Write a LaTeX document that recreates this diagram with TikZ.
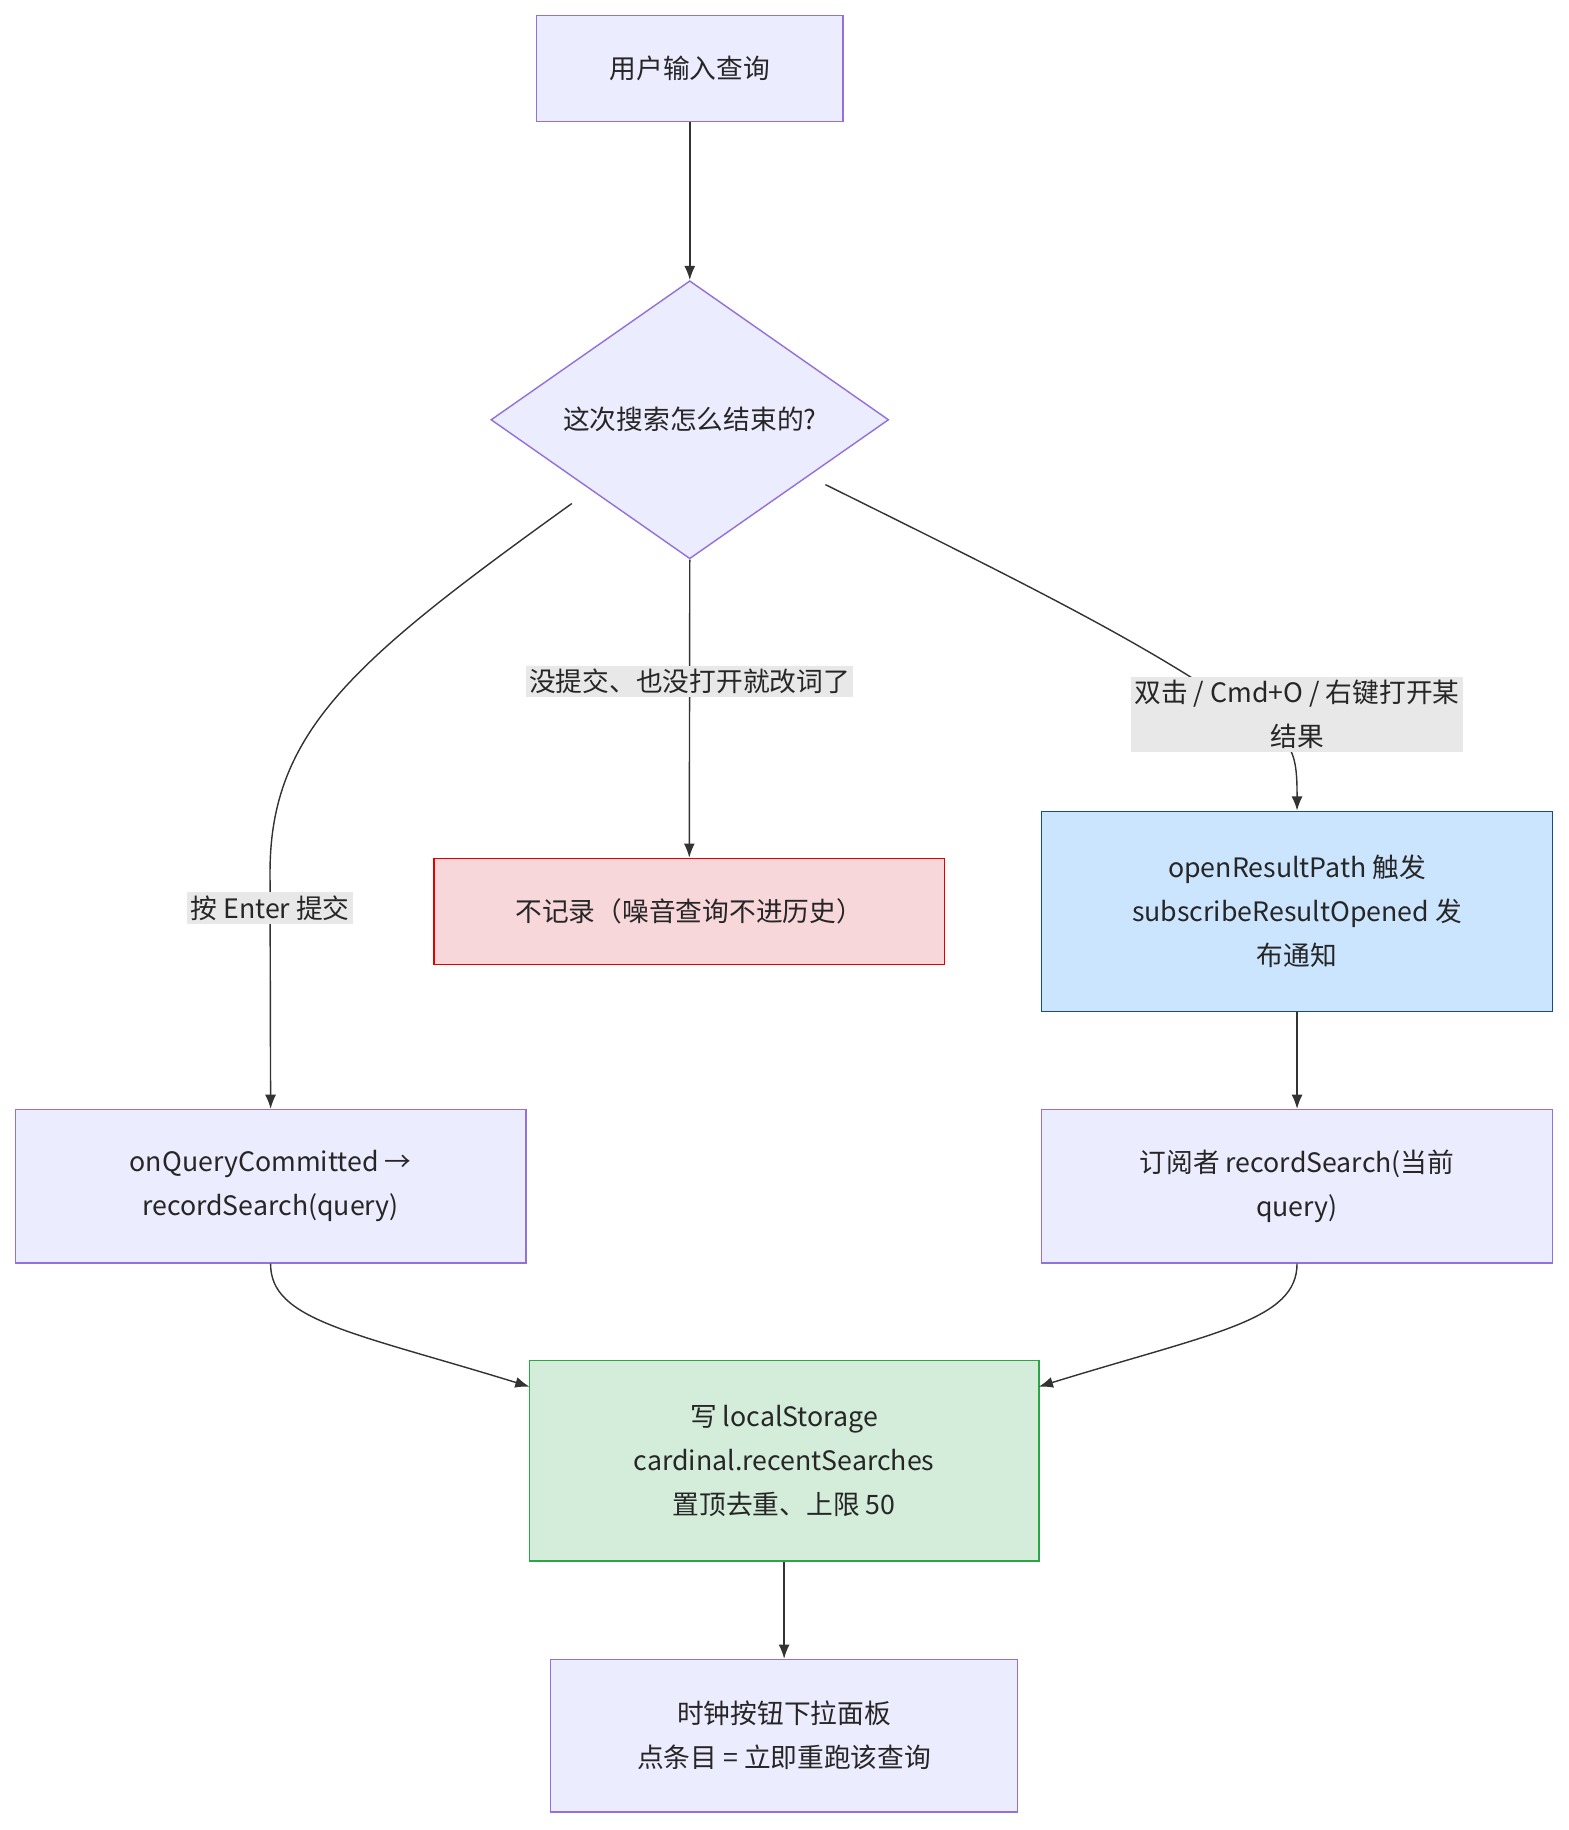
\documentclass[tikz,border=0pt]{standalone}
\usepackage{fontspec}
\setmainfont{Noto Sans CJK SC}
\usetikzlibrary{shapes.geometric,arrows.meta}
\definecolor{pfill}{HTML}{ECECFF}
\definecolor{pline}{HTML}{9370DB}
\definecolor{lbl}{HTML}{E8E8E8}
\begin{document}
\begin{tikzpicture}[x=0.75pt,y=-0.75pt,
  box/.style={draw=pline,fill=pfill,line width=0.9pt,minimum width=#1*0.75pt,align=center,font=\fontsize{17}{28}\selectfont,text=black!85},
  ar/.style={-{Latex[length=9pt,width=7pt]},line width=0.9pt,draw=black!80},
  lab/.style={fill=lbl,inner sep=2pt,align=center,font=\fontsize{17}{28}\selectfont,text=black!85}]
\useasboundingbox (0,0) rectangle (1330,1552);
\node[box=260,minimum height=67.5pt] (A) at (585,58) {用户输入查询};
\node[box=1,diamond,aspect=1,minimum width=253pt,inner sep=0pt] (D) at (585,356) {这次搜索怎么结束的?};
\node[box=433,minimum height=67.5pt,draw=red!90!black,fill={rgb,255:red,248;green,215;blue,218}] (N) at (584.5,773) {不记录（噪音查询不进历史）};
\node[box=433,minimum height=127.5pt,draw={rgb,255:red,26;green,74;blue,138},fill={rgb,255:red,204;green,229;blue,255}] (O) at (1100,773) {openResultPath 触发\\subscribeResultOpened 发\\布通知};
\node[box=433,minimum height=97.5pt] (C) at (229.5,1006) {onQueryCommitted →\\recordSearch(query)};
\node[box=433,minimum height=97.5pt] (S) at (1100,1006) {订阅者 recordSearch(当前\\query)};
\node[box=432,minimum height=127.5pt,draw={rgb,255:red,40;green,167;blue,69},fill={rgb,255:red,212;green,237;blue,218}] (W) at (665,1239) {写 localStorage\\cardinal.recentSearches\\置顶去重、上限 50};
\node[box=396,minimum height=97pt] (T) at (665,1472) {时钟按钮下拉面板\\点条目 = 立即重跑该查询};
\coordinate (dl) at (485,427);
\coordinate (dr) at (700,411);
\draw[ar] (A) -- (D);
\draw[ar] (D.south) -- node[lab,pos=0.41]{没提交、也没打开就改词了} (N);
\draw[ar] (dl) .. controls (300,560) and (229,620) .. (229,740) -- node[lab,pos=0.15]{按 Enter 提交} (C.north);
\draw[ar] (dr) .. controls (900,510) and (1000,560) .. (1090,630) .. controls (1100,640) and (1100,660) .. (O.north);
\node[lab] at (1100,606) {双击 / Cmd+O / 右键打开某\\结果};
\draw[ar] (O) -- (S);
\draw[ar] (C.south) .. controls (229,1120) and (300,1130) .. (449,1176);
\draw[ar] (S.south) .. controls (1100,1120) and (1030,1130) .. (881,1176);
\draw[ar] (W) -- (T);
\end{tikzpicture}
\end{document}
